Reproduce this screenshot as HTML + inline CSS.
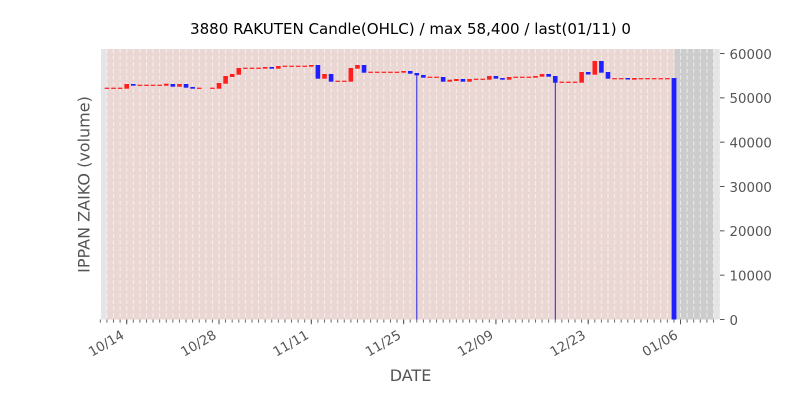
<!DOCTYPE html>
<html><head><meta charset="utf-8"><style>
html,body{margin:0;padding:0;background:#fff;}
svg{display:block;font-family:"DejaVu Sans","Liberation Sans",sans-serif;}
</style></head><body>
<svg width="800" height="400" viewBox="0 0 800 400" xmlns="http://www.w3.org/2000/svg">
<defs>
<pattern id="grid" patternUnits="userSpaceOnUse" x="97.03" y="49" width="6.593" height="6.6">
<rect x="2.8" y="0" width="1" height="4.2" fill="#ffffff" fill-opacity="0.6"/>
</pattern>
<pattern id="mtick" patternUnits="userSpaceOnUse" x="97.03" y="319.5" width="6.593" height="20">
<rect x="2.8" y="0" width="1" height="3.2" fill="#666"/>
</pattern>
</defs>
<rect x="0" y="0" width="800" height="400" fill="#fff"/>
<rect x="101" y="49" width="619" height="270.5" fill="#e5e5e5"/>
<rect x="107" y="49" width="567.5" height="270.5" fill="#ead7d3"/>
<rect x="674.5" y="49" width="39" height="270.5" fill="#cccccc"/>
<rect x="101" y="49" width="619" height="270.5" fill="url(#grid)"/>
<rect x="416.3" y="75" width="1" height="244.5" fill="#2020e0"/>
<rect x="554.8" y="82" width="1" height="237.5" fill="#2020e0"/>
<g fill="#ff2a2a">
<rect x="104.62" y="87.65" width="4.6" height="1.3"/>
<rect x="111.21" y="87.65" width="4.6" height="1.3"/>
<rect x="117.81" y="87.65" width="4.6" height="1.3"/>
<rect x="137.59" y="84.65" width="4.6" height="1.3"/>
<rect x="144.18" y="84.65" width="4.6" height="1.3"/>
<rect x="150.77" y="84.65" width="4.6" height="1.3"/>
<rect x="157.37" y="84.65" width="4.6" height="1.3"/>
<rect x="196.92" y="87.65" width="4.6" height="1.3"/>
<rect x="210.11" y="87.65" width="4.6" height="1.3"/>
<rect x="243.07" y="67.65" width="4.6" height="1.3"/>
<rect x="249.67" y="67.65" width="4.6" height="1.3"/>
<rect x="256.26" y="67.65" width="4.6" height="1.3"/>
<rect x="282.63" y="65.65" width="4.6" height="1.3"/>
<rect x="289.23" y="65.65" width="4.6" height="1.3"/>
<rect x="295.82" y="65.65" width="4.6" height="1.3"/>
<rect x="302.41" y="65.65" width="4.6" height="1.3"/>
<rect x="335.38" y="80.65" width="4.6" height="1.3"/>
<rect x="341.97" y="80.65" width="4.6" height="1.3"/>
<rect x="368.34" y="71.65" width="4.6" height="1.3"/>
<rect x="374.93" y="71.65" width="4.6" height="1.3"/>
<rect x="381.53" y="71.65" width="4.6" height="1.3"/>
<rect x="388.12" y="71.65" width="4.6" height="1.3"/>
<rect x="394.71" y="71.65" width="4.6" height="1.3"/>
<rect x="427.68" y="76.65" width="4.6" height="1.3"/>
<rect x="434.27" y="76.65" width="4.6" height="1.3"/>
<rect x="473.83" y="78.65" width="4.6" height="1.3"/>
<rect x="480.42" y="78.65" width="4.6" height="1.3"/>
<rect x="513.39" y="76.65" width="4.6" height="1.3"/>
<rect x="519.98" y="76.65" width="4.6" height="1.3"/>
<rect x="526.57" y="76.65" width="4.6" height="1.3"/>
<rect x="559.54" y="81.65" width="4.6" height="1.3"/>
<rect x="566.13" y="81.65" width="4.6" height="1.3"/>
<rect x="572.72" y="81.65" width="4.6" height="1.3"/>
<rect x="612.28" y="78.05" width="4.6" height="1.3"/>
<rect x="618.88" y="78.05" width="4.6" height="1.3"/>
<rect x="638.65" y="78.05" width="4.6" height="1.3"/>
<rect x="645.25" y="78.05" width="4.6" height="1.3"/>
<rect x="651.84" y="78.05" width="4.6" height="1.3"/>
<rect x="658.43" y="78.05" width="4.6" height="1.3"/>
<rect x="665.03" y="78.05" width="4.6" height="1.3"/>
</g>
<g fill="#ff1f1f">
<rect x="124.4" y="84" width="4.6" height="4.7"/>
<rect x="163.96" y="83.7" width="4.6" height="2"/>
<rect x="177.14" y="84" width="4.6" height="2.7"/>
<rect x="216.7" y="83" width="4.6" height="5.7"/>
<rect x="223.3" y="76" width="4.6" height="7.7"/>
<rect x="229.89" y="74" width="4.6" height="3"/>
<rect x="236.48" y="68" width="4.6" height="6.7"/>
<rect x="262.85" y="67" width="4.6" height="1.7"/>
<rect x="276.04" y="66" width="4.6" height="2.7"/>
<rect x="309.0" y="65" width="4.6" height="1.7"/>
<rect x="322.19" y="74" width="4.6" height="4.7"/>
<rect x="348.56" y="68" width="4.6" height="13.7"/>
<rect x="355.16" y="65" width="4.6" height="3.7"/>
<rect x="401.31" y="71" width="4.6" height="1.7"/>
<rect x="447.46" y="79.7" width="4.6" height="2"/>
<rect x="454.05" y="79" width="4.6" height="2"/>
<rect x="467.24" y="79" width="4.6" height="2.7"/>
<rect x="487.02" y="76" width="4.6" height="3.7"/>
<rect x="506.79" y="77" width="4.6" height="2.7"/>
<rect x="533.17" y="76" width="4.6" height="1.7"/>
<rect x="539.76" y="74" width="4.6" height="2.7"/>
<rect x="579.32" y="72" width="4.6" height="10.7"/>
<rect x="592.5" y="61" width="4.6" height="13.7"/>
<rect x="632.06" y="78" width="4.6" height="1.7"/>
</g>
<g fill="#1f1fff">
<rect x="130.99" y="84" width="4.6" height="1.7"/>
<rect x="170.55" y="84" width="4.6" height="2.7"/>
<rect x="183.74" y="84" width="4.6" height="3.7"/>
<rect x="190.33" y="87" width="4.6" height="1.7"/>
<rect x="269.45" y="67" width="4.6" height="1.7"/>
<rect x="315.6" y="65" width="4.6" height="13.7"/>
<rect x="328.78" y="74" width="4.6" height="7.7"/>
<rect x="361.75" y="65" width="4.6" height="7.7"/>
<rect x="407.9" y="71" width="4.6" height="2.7"/>
<rect x="414.49" y="73" width="4.6" height="2.3"/>
<rect x="421.09" y="75" width="4.6" height="2.7"/>
<rect x="440.86" y="77" width="4.6" height="4.7"/>
<rect x="460.64" y="79" width="4.6" height="2.7"/>
<rect x="493.61" y="76" width="4.6" height="2.7"/>
<rect x="500.2" y="78" width="4.6" height="1.7"/>
<rect x="546.35" y="74" width="4.6" height="2.7"/>
<rect x="552.95" y="76" width="4.6" height="6.7"/>
<rect x="585.91" y="72" width="4.6" height="2.5"/>
<rect x="599.1" y="61" width="4.6" height="11.7"/>
<rect x="605.69" y="72" width="4.6" height="6.7"/>
<rect x="625.47" y="78" width="4.6" height="1.5"/>
<rect x="671.62" y="78" width="4.8" height="241.5"/>
</g>
<rect x="99" y="319.5" width="617" height="3.2" fill="url(#mtick)"/>
<g stroke="#555" stroke-width="1">
<line x1="126.7" y1="319.5" x2="126.7" y2="324.3"/>
<line x1="219.0" y1="319.5" x2="219.0" y2="324.3"/>
<line x1="311.3" y1="319.5" x2="311.3" y2="324.3"/>
<line x1="403.61" y1="319.5" x2="403.61" y2="324.3"/>
<line x1="495.91" y1="319.5" x2="495.91" y2="324.3"/>
<line x1="588.21" y1="319.5" x2="588.21" y2="324.3"/>
<line x1="680.51" y1="319.5" x2="680.51" y2="324.3"/>
</g>
<g fill="#555" font-size="13.33" text-anchor="end">
<text transform="translate(118.95,327) rotate(-30)" x="0" y="12.3">10/14</text>
<text transform="translate(211.25,327) rotate(-30)" x="0" y="12.3">10/28</text>
<text transform="translate(303.55,327) rotate(-30)" x="0" y="12.3">11/11</text>
<text transform="translate(395.86,327) rotate(-30)" x="0" y="12.3">11/25</text>
<text transform="translate(488.16,327) rotate(-30)" x="0" y="12.3">12/09</text>
<text transform="translate(580.46,327) rotate(-30)" x="0" y="12.3">12/23</text>
<text transform="translate(672.76,327) rotate(-30)" x="0" y="12.3">01/06</text>
</g>
<g stroke="#555" stroke-width="1">
<line x1="720" y1="319.5" x2="724.5" y2="319.5"/>
<line x1="720" y1="275.17" x2="724.5" y2="275.17"/>
<line x1="720" y1="230.84" x2="724.5" y2="230.84"/>
<line x1="720" y1="186.51" x2="724.5" y2="186.51"/>
<line x1="720" y1="142.18" x2="724.5" y2="142.18"/>
<line x1="720" y1="97.85" x2="724.5" y2="97.85"/>
<line x1="720" y1="53.52" x2="724.5" y2="53.52"/>
</g>
<g fill="#555" font-size="13.33">
<text x="729.5" y="324.8">0</text>
<text x="729.5" y="280.5">10000</text>
<text x="729.5" y="236.1">20000</text>
<text x="729.5" y="191.8">30000</text>
<text x="729.5" y="147.5">40000</text>
<text x="729.5" y="103.2">50000</text>
<text x="729.5" y="58.8">60000</text>
</g>
<text x="410.5" y="381" font-size="16" fill="#555" text-anchor="middle">DATE</text>
<text transform="translate(89.5,184.5) rotate(-90)" x="0" y="0" font-size="16" fill="#555" text-anchor="middle">IPPAN ZAIKO (volume)</text>
<text x="410.5" y="34" font-size="15.07" fill="#000" text-anchor="middle">3880 RAKUTEN Candle(OHLC) / max 58,400 / last(01/11) 0</text>
</svg>
</body></html>
